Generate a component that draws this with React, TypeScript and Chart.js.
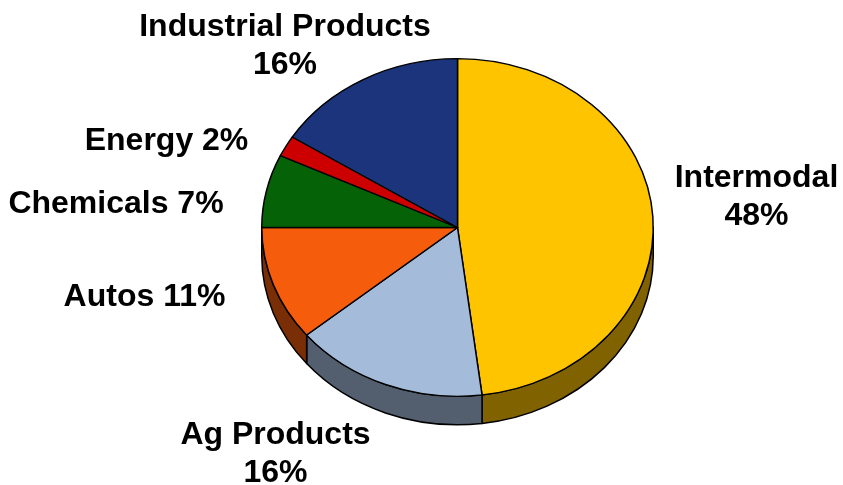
import React, { useEffect, useRef } from "react";
import { Chart, registerables } from "chart.js";

Chart.register(...registerables);

const categories = ["Intermodal", "Ag Products", "Autos", "Chemicals", "Energy", "Industrial Products"];
const shares = [48, 16, 11, 7, 2, 16];
const topColors = ["#FFC400", "#A4BCDA", "#F55C0C", "#066206", "#CC0000", "#1C347C"];
const wallColors = ["#806200", "#535F6F", "#7A2E06", "#033103", "#660000", "#0E1A3E"];

// Label lines and where each label's centre sits on the page
const labelLines = [
  ["Intermodal", "48%"],
  ["Ag Products", "16%"],
  ["Autos 11%"],
  ["Chemicals 7%"],
  ["Energy 2%"],
  ["Industrial Products", "16%"],
];
const labelCenters = [
  [756.5, 197],
  [275.5, 454],
  [144.5, 297],
  [116, 204],
  [166.5, 141],
  [285, 46],
];

const W = 843;
const H = 485;
const SQUASH = 169 / 196;
const DEPTH = 28.5;
const EDGE = 1.5;

const tiltPlugin = {
  id: "tilt",
  beforeDatasetsDraw(chart: any) {
    const { ctx } = chart;
    const arcs = chart.getDatasetMeta(0).data;
    const { x: cx, y: cy, outerRadius: r } = arcs[0].getProps(["x", "y", "outerRadius"], true);
    const ry = r * SQUASH;
    ctx.save();
    arcs.forEach((arc: any, i: number) => {
      const { startAngle, endAngle } = arc.getProps(["startAngle", "endAngle"], true);
      const TAU = Math.PI * 2;
      const norm = (a: number) => ((a % TAU) + TAU) % TAU;
      let a0 = norm(startAngle);
      let a1 = a0 + (endAngle - startAngle);
      if (a0 > Math.PI) {
        if (a1 <= TAU) return;
        a0 = 0;
        a1 -= TAU;
      }
      const end = Math.min(a1, Math.PI);
      if (end <= a0) return;
      ctx.beginPath();
      ctx.ellipse(cx, cy, r, ry, 0, a0, end);
      ctx.ellipse(cx, cy + DEPTH, r, ry, 0, end, a0, true);
      ctx.closePath();
      ctx.fillStyle = wallColors[i];
      ctx.strokeStyle = "#000000";
      ctx.lineWidth = EDGE;
      ctx.lineJoin = "round";
      ctx.fill();
      ctx.stroke();
    });
    ctx.restore();
    ctx.save();
    ctx.translate(cx, cy);
    ctx.scale(1, SQUASH);
    ctx.translate(-cx, -cy);
  },
  afterDatasetsDraw(chart: any) {
    const { ctx } = chart;
    ctx.restore();
    ctx.save();
    ctx.font = "bold 32px 'Liberation Sans', Arial, sans-serif";
    ctx.fillStyle = "#000000";
    ctx.textAlign = "center";
    ctx.textBaseline = "middle";
    const lineH = 38.5;
    labelLines.forEach((lines, i) => {
      const [x, y] = labelCenters[i];
      lines.forEach((t, k) => {
        ctx.fillText(t, x, y + (k - (lines.length - 1) / 2) * lineH);
      });
    });
    ctx.restore();
  },
};

export default function App() {
  const ref = useRef<HTMLCanvasElement | null>(null);
  useEffect(() => {
    if (!ref.current) return;
    const chart = new Chart(ref.current, {
      type: "pie",
      data: {
        labels: categories,
        datasets: [
          {
            data: shares,
            backgroundColor: topColors,
            borderColor: "#000000",
            borderWidth: EDGE,
            borderAlign: "center",
            borderJoinStyle: "round",
          } as any,
        ],
      },
      options: {
        animation: false,
        responsive: false,
        devicePixelRatio: 1,
        layout: { padding: { left: 261, right: 189, top: 31, bottom: 61 } },
        plugins: { legend: { display: false }, tooltip: { enabled: false } },
      },
      plugins: [tiltPlugin],
    });
    return () => chart.destroy();
  }, []);
  return (
    <div style={{ position: "fixed", left: 0, top: 0, width: W, height: H, background: "#fff" }}>
      <canvas ref={ref} width={W} height={H} style={{ display: "block" }} />
    </div>
  );
}
